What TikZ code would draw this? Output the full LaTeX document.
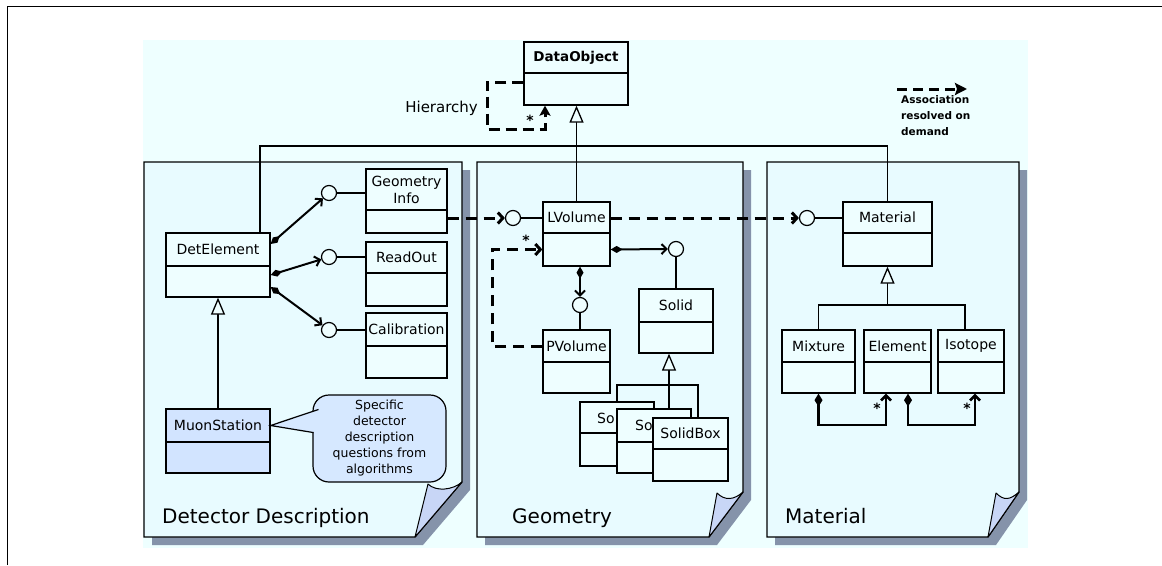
\documentclass[tikz,border=0pt]{standalone}
\usepackage{fontspec}
\setmainfont{DejaVu Sans}
\usetikzlibrary{arrows.meta,fit}
\definecolor{bgcol}{RGB}{238,255,255}
\definecolor{panelcol}{RGB}{232,251,255}
\definecolor{boxcol}{RGB}{238,254,255}
\definecolor{shadowcol}{RGB}{133,147,170}
\definecolor{flapcol}{RGB}{200,214,246}
\definecolor{muoncol}{RGB}{210,228,255}
\definecolor{calloutcol}{RGB}{214,232,255}
\newcommand\bxfont{\fontsize{14}{17}\selectfont}
\newcommand\umlcls[8][]{%
  \node[clshead,#1,fit={(#3,#4) (#5,#6)}] (#2) {};
  \node[clsbody,#1,fit={(#3,#6) (#5,#7)}] (#2-b) {};
  \node[clstext] (#2-t) at (#2.center) {#8};}
\newcommand\panelshape[8]{%
  \fill[shadowcol] ({#1+8},{#2+8}) -- ({#3+8},{#2+8}) -- ({#3+8},{#6+8}) -- ({#5+8},{#4+8}) -- ({#1+8},{#4+8}) -- cycle;
  \filldraw[panelfill] (#1,#2) -- (#3,#2) -- (#3,#6) -- (#5,#4) -- (#1,#4) -- cycle;
  \filldraw[flapfill] (#5,#4) -- (#7,#8) .. controls ({#7+8},{#8+8}) and ({#3-9},{#6+8}) .. (#3,#6) -- cycle;}
\tikzset{
  panelfill/.style={fill=panelcol, draw=black, line width=1.3pt, line join=miter},
  flapfill/.style={fill=flapcol, draw=black, line width=1pt, line join=round},
  clshead/.style={draw, fill=boxcol, line width=1.3pt, inner sep=0pt},
  clsbody/.style={draw, fill=boxcol, line width=1.3pt, inner sep=0pt},
  clstext/.style={inner sep=0pt, anchor=center, font=\bxfont, align=center},
  lolli/.style={circle, draw, fill=boxcol, line width=1.2pt, minimum size=15pt, inner sep=0pt},
  umlline/.style={line width=1.3pt},
  genarrow/.style={line width=1.3pt, -{Triangle[length=17pt, width=14pt, fill=boxcol, line width=1.3pt]}},
  assoc/.style={line width=3pt, dash pattern=on 11pt off 7pt, -{Straight Barb[length=5pt, width=11pt]}},
  hier/.style={line width=3pt, dash pattern=on 11pt off 6pt, -{Stealth[length=10pt, width=11pt, inset=2pt]}},
  legarrow/.style={line width=3pt, dash pattern=on 10pt off 6pt, -{Stealth[length=12pt, width=12pt, inset=2pt]}},
  comp/.style={line width=2pt, {Diamond[length=12pt, width=7pt]}-{Straight Barb[length=5pt, width=10pt]}},
  compthick/.style={line width=2.6pt, {Diamond[length=13pt, width=8pt]}-{Straight Barb[length=5pt, width=10pt]}},
  ptitle/.style={inner sep=0pt, font=\fontsize{20}{24}\selectfont},
  mult/.style={inner sep=0pt, anchor=base, font=\bfseries\fontsize{14}{14}\selectfont},
  calloutbox/.style={draw, fill=calloutcol, line width=1.2pt, rounded corners=16pt, minimum width=133pt, minimum height=87pt, inner sep=0pt, align=center, font=\fontsize{12.5}{16}\selectfont},
}
\begin{document}
\begin{tikzpicture}[x=1pt,y=-1pt]
\useasboundingbox (0,0) rectangle (1162,565);
\fill[bgcol] (143,40) rectangle (1028,548);
\draw[line width=1pt] (7,565) -- (7,6) -- (1162,6);
% panels
\panelshape{144}{162}{462}{537}{415}{482}{428}{484}
\panelshape{477}{162}{743}{537}{709}{492}{717}{493}
\panelshape{767}{162}{1019}{537}{988}{492}{996}{493}
\node[ptitle, anchor=base west] (t1) at (162,523) {Detector Description};
\node[ptitle, anchor=base west] (t2) at (512,523) {Geometry};
\node[ptitle, anchor=base west] (t3) at (785,523) {Material};
% helper coordinates
\coordinate (h1) at (0,146);
\coordinate (h2) at (0,305);
\coordinate (h3) at (0,385);
\coordinate (h4) at (0,425);
\coordinate (isox) at (965,0);
\coordinate (sx) at (669,0);
\coordinate (s3x) at (698,0);
% classes
\umlcls{dobj}{524}{42}{628}{73}{105}{\bfseries\fontsize{13.5}{16}\selectfont DataObject}
\umlcls{detel}{166}{233}{270}{266}{297}{DetElement}
\umlcls{ginfo}{366}{169}{447}{210}{233}{Geometry\\Info}
\umlcls{readout}{366}{242}{447}{273}{306}{ReadOut}
\umlcls{calib}{366}{313}{447}{346}{378}{Calibration}
\umlcls[fill=muoncol]{muon}{166}{409}{270}{442}{473}{MuonStation}
\umlcls{lvol}{543}{202}{610}{233}{266}{LVolume}
\umlcls{pvol}{543}{330}{610}{362}{393}{PVolume}
\umlcls{solid}{639}{289}{713}{322}{353}{Solid}
\umlcls{mat}{843}{202}{932}{233}{266}{Material}
\umlcls{mix}{782}{330}{855}{362}{393}{Mixture}
\umlcls{elem}{864}{330}{931}{362}{393}{Element}
\umlcls{iso}{938}{330}{1004}{362}{393}{Isotope}
% generalization trees
\coordinate (dtop) at ([xshift=42pt]detel.north);
\draw[umlline] (dtop) -- (dtop |- h1) -- (mat.north |- h1) -- (mat.north);
\draw[genarrow] (lvol.north) -- (lvol.north |- dobj-b.south);
\draw[genarrow] (muon.north) -- (detel-b.south);
\draw[umlline] (mix.north) |- (isox |- h2) -- (isox |- iso.north);
\draw[genarrow] (mat-b.south |- h2) -- (mat-b.south);
% solid subclasses
\draw[umlline] (617,402) |- (s3x |- h3) -- (s3x |- 418,418);
\draw[genarrow] (sx |- 0,409) -- (sx |- solid-b.south);
\umlcls{so1}{580}{402}{654}{433}{466}{}
\node[font=\bxfont, anchor=west, inner sep=0pt] (so1-s) at (597,418) {So};
\umlcls{so2}{617}{409}{691}{442}{473}{}
\node[font=\bxfont, anchor=west, inner sep=0pt] (so2-s) at (635,425) {So};
\umlcls{so3}{653}{418}{728}{449}{481}{SolidBox}
% interface circles
\node[lolli] (cg) at (329,193) {};
\node[lolli] (cr) at (329,257) {};
\node[lolli] (cc) at (329,330) {};
\node[lolli] (cl) at (513,218) {};
\node[lolli] (cs) at (676,249) {};
\node[lolli] (cp) at (580,305) {};
\node[lolli] (cm) at (807,218) {};
\draw[umlline] (cg.east) -- (cg.east -| ginfo.west);
\draw[umlline] (cr.east) -- (cr.east -| readout.west);
\draw[umlline] (cc.east) -- (cc.east -| calib.west);
\draw[umlline] (cl.east) -- (cl.east -| lvol.west);
\draw[umlline] (cm.east) -- (cm.east -| mat.west);
\draw[umlline] (cs.south) -- (cs.south |- solid.north);
\draw[umlline] (cp.south) -- (cp.south |- pvol.north);
% compositions
\draw[comp] ([yshift=5.5pt]detel.east) -- (cg);
\draw[comp] ([yshift=6.5pt]detel-b.east) -- (cr);
\draw[comp] ([yshift=-5.5pt]detel-b.east) -- (cc);
\draw[comp] (lvol-b.east) -- (cs.west);
\draw[comp] (cp |- lvol-b.south) -- (cp.north);
\coordinate (ea) at (886,0);
\coordinate (eb) at (908,0);
\coordinate (ia) at (975,0);
\draw[compthick] (mix-b.south) |- (ea |- h4) -- (ea |- elem-b.south);
\draw[compthick] (eb |- elem-b.south) |- (ia |- h4) -- (ia |- iso-b.south);
\node[mult] (m3) at (877,413) {*};
\node[mult] (m4) at (967,413) {*};
% associations
\draw[assoc] (cl.west -| ginfo-b.east) -- (cl.west);
\draw[assoc] (cm.west -| lvol.east) -- (cm.west);
\coordinate (px) at (492,0);
\draw[assoc] (pvol.west) -- (px |- pvol.west) -- (px |- lvol-b.west) -- (lvol-b.west);
\node[mult] (m2) at (526,245) {*};
% hierarchy
\coordinate (hs) at ([yshift=7pt]dobj-b.west);
\coordinate (hx) at (487,0);
\coordinate (hy) at (0,129);
\coordinate (ha) at (545,0);
\draw[hier] (hs) -- (hx |- hs) -- (hx |- hy) -- (ha |- hy) -- (ha |- dobj-b.south);
\node[mult] (m1) at (530,125) {*};
\node[inner sep=0pt, anchor=base east, font=\fontsize{15}{18}\selectfont] (hlab) at (478,112) {Hierarchy};
% legend
\coordinate (lg1) at (897,89);
\coordinate (lg2) at (967,89);
\draw[legarrow] (lg1) -- (lg2);
\node[inner sep=0pt, anchor=north west, align=left, font=\bfseries\fontsize{10.5}{16}\selectfont] (leg) at (901,95) {Association\\resolved on\\demand};
% callout
\node[calloutbox] (callout) at (379.5,438.5) {Specific\\detector\\description\\questions from\\algorithms};
\coordinate (pt1) at (318.5,409.5);
\coordinate (pt2) at (313.6,432.6);
\fill[calloutcol] (muon.east) -- (pt1) -- ([xshift=2pt]pt2) -- cycle;
\draw[line width=1.2pt] (pt1) -- (muon.east) -- (pt2);
\end{tikzpicture}
\end{document}
